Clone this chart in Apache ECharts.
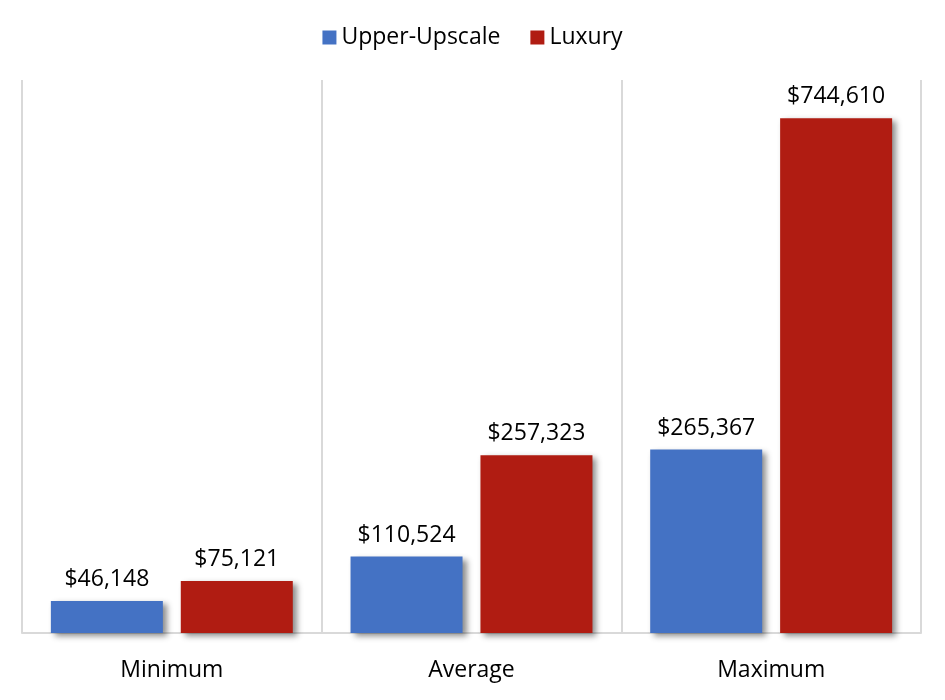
<!DOCTYPE html>
<html><head><meta charset="utf-8">
<script src="https://cdn.jsdelivr.net/npm/echarts@6/dist/echarts.min.js"></script>
<style>html,body{margin:0;padding:0;background:#fff}#c{width:945px;height:700px}</style>
</head><body><div id="c"></div>
<script>
const categories = ['Minimum', 'Average', 'Maximum'];
const upperUpscale = [46148, 110524, 265367];
const luxury = [75121, 257323, 744610];
const seriesNames = ['Upper-Upscale', 'Luxury'];

const fmt = v => '$' + v.toLocaleString('en-US');
const font = '"Open Sans", "Noto Sans", sans-serif';
const shadow = {shadowColor:'rgba(0,0,0,0.45)', shadowBlur:6, shadowOffsetX:4, shadowOffsetY:3};

const chart = echarts.init(document.getElementById('c'), null, {renderer:'canvas'});
chart.setOption({
  animation:false,
  legend:{top:21, left:'center', itemWidth:14, itemHeight:14, itemGap:30,
    icon:'rect', textStyle:{fontFamily:font, fontSize:23, color:'#000'}, data:seriesNames},
  grid:{left:22, right:24, top:80, bottom:67},
  xAxis:{type:'category', data:categories,
    axisLine:{lineStyle:{color:'#d9d9d9', width:2}},
    axisTick:{show:false},
    splitLine:{show:true, lineStyle:{color:'#d9d9d9', width:2}},
    axisLabel:{fontFamily:font, fontSize:23, color:'#000', margin:26}},
  yAxis:{type:'value', min:0, max:800000, show:false, splitLine:{show:false}},
  series:[
    {name:seriesNames[0], type:'bar', data:upperUpscale, barWidth:112, barGap:'16%',
     itemStyle:Object.assign({color:'#4472c4'}, shadow),
     label:{show:true, position:'top', distance:10, formatter:p=>fmt(p.value), fontFamily:font, fontSize:23, color:'#000'}},
    {name:seriesNames[1], type:'bar', data:luxury, barWidth:112, barGap:'16%',
     itemStyle:Object.assign({color:'#b01c12'}, shadow),
     label:{show:true, position:'top', distance:10, formatter:p=>fmt(p.value), fontFamily:font, fontSize:23, color:'#000'}}
  ]
});
</script></body></html>
